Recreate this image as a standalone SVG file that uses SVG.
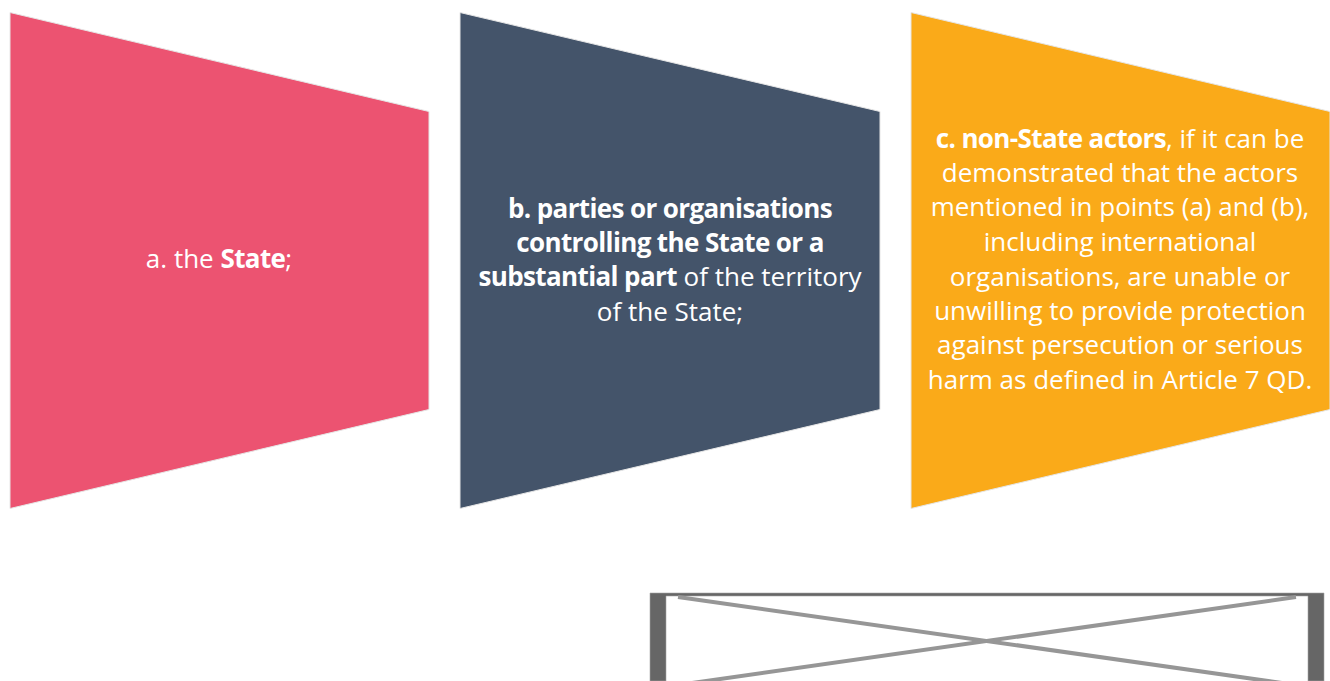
<svg xmlns="http://www.w3.org/2000/svg" width="1330" height="681" viewBox="0 0 1330 681">
<style>
.s{stroke:#e6e6e6;stroke-width:1}
.t{font-family:"Open Sans","Noto Sans",sans-serif;font-size:26px;fill:#fff;text-anchor:middle}
.b{font-weight:700;letter-spacing:-.62px}
.x{fill:none;stroke:#969696;stroke-width:4}
</style>
<rect width="1330" height="681" fill="#fff"/>
<g id="node-a"><polygon class="s" points="10,12.500 429,111.500 429,409.500 10,508.500" fill="#ec5371"/>
<text class="t" x="219" y="268">a. the <tspan class="b">State</tspan>;</text></g>
<g id="node-b"><polygon class="s" points="460,12.500 880,111.500 880,409.500 460,508.500" fill="#44546a"/>
<text class="t" x="670" y="217.500"><tspan class="b">b. parties or organisations</tspan></text>
<text class="t" x="670" y="251.500"><tspan class="b">controlling the State or a</tspan></text>
<text class="t" x="670" y="286"><tspan class="b">substantial part</tspan> of the territory</text>
<text class="t" x="670" y="320.500">of the State;</text></g>
<g id="node-c"><polygon class="s" points="911,12.500 1330,111.500 1330,409.500 911,508.500" fill="#faaa19"/>
<text class="t" x="1120" y="148"><tspan class="b">c. non-State actors</tspan>, if it can be</text>
<text class="t" x="1120" y="182">demonstrated that the actors</text>
<text class="t" x="1120" y="216">mentioned in points (a) and (b),</text>
<text class="t" x="1120" y="251">including international</text>
<text class="t" x="1120" y="286">organisations, are unable or</text>
<text class="t" x="1120" y="320">unwilling to provide protection</text>
<text class="t" x="1120" y="354">against persecution or serious</text>
<text class="t" x="1120" y="389">harm as defined in Article 7 QD.</text></g>
<g id="placeholder">
<path d="M650 593H1324V681H1308V596H666V681H650Z" fill="#666" stroke="#a6a6a6" stroke-width=".6"/>
<line class="x" x1="678" y1="597" x2="1296" y2="685"/>
<line class="x" x1="1296" y1="597" x2="678" y2="685"/>
</g>
</svg>
